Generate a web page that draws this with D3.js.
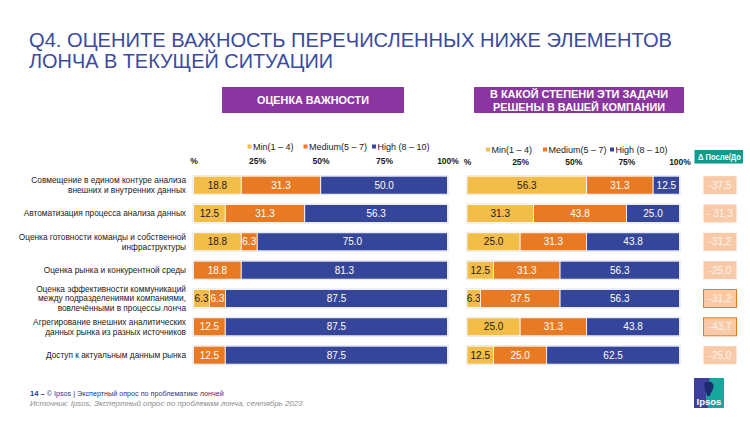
<!DOCTYPE html>
<html><head><meta charset="utf-8">
<script src="https://cdn.jsdelivr.net/npm/d3@7/dist/d3.min.js"></script>
<style>
body{margin:0;background:#fff;}
svg{display:block;font-family:"Liberation Sans",Arial,sans-serif;}
</style></head>
<body><svg id="c" width="750" height="422"></svg>
<script>
const categories = [
  ["Совмещение в едином контуре анализа","внешних и внутренних данных"],
  ["Автоматизация процесса анализа данных"],
  ["Оценка готовности команды и собственной","инфраструктуры"],
  ["Оценка рынка и конкурентной среды"],
  ["Оценка эффективности коммуникаций","между подразделениями компаниями,","вовлечёнными в процессы лонча"],
  ["Агрегирование внешних аналитических","данных рынка из разных источников"],
  ["Доступ к актуальным данным рынка"]
];
const seriesNames = ["Min(1 – 4)","Medium(5 – 7)","High (8 – 10)"];
const importanceMin    = [18.8,12.5,18.8,0,6.3,0,0];
const importanceMedium = [31.3,31.3,6.3,18.8,6.3,12.5,12.5];
const importanceHigh   = [50.0,56.3,75.0,81.3,87.5,87.5,87.5];
const solvedMin    = [56.3,31.3,25.0,12.5,6.3,25.0,12.5];
const solvedMedium = [31.3,43.8,31.3,31.3,37.5,31.3,25.0];
const solvedHigh   = [12.5,25.0,43.8,56.3,56.3,43.8,62.5];
const deltaLabels = ["-37,5","- 31,3","-31,2","-25,0","-31,2","-43,7","-25,0"];
const deltaHighlighted = [false,false,false,false,true,true,false];
const tickValues = [0,25,50,75,100];
const tickLabels = ["%","25%","50%","75%","100%"];

const colors = ["#f2bd48","#e97a24","#34459a"];
const textColors = ["#1a1a1a","#ffffff","#ffffff"];

const svg = d3.select("#c");

// Title
const title = svg.append("g").attr("fill","#3b4a9e").style("font-size","20.2px");
title.append("text").attr("x",29).attr("y",46.5).attr("textLength",643).attr("lengthAdjust","spacingAndGlyphs")
  .text("Q4. ОЦЕНИТЕ ВАЖНОСТЬ ПЕРЕЧИСЛЕННЫХ НИЖЕ ЭЛЕМЕНТОВ");
title.append("text").attr("x",29).attr("y",68).attr("textLength",304).attr("lengthAdjust","spacingAndGlyphs")
  .text("ЛОНЧА В ТЕКУЩЕЙ СИТУАЦИИ");

// Header boxes
function headerBox(x0,x1,lines,widths){
  svg.append("rect").attr("x",x0).attr("y",87).attr("width",x1-x0).attr("height",26).attr("fill","#8a35a0");
  const cy = 100, lh = 13;
  lines.forEach((l,i)=>{
    svg.append("text").attr("x",(x0+x1)/2).attr("y",cy + (i-(lines.length-1)/2)*lh + 4)
      .attr("text-anchor","middle").attr("fill","#fff").style("font-size","11.3px").style("font-weight","bold")
      .attr("textLength",widths[i]).attr("lengthAdjust","spacingAndGlyphs").text(l);
  });
}
headerBox(222,404,["ОЦЕНКА ВАЖНОСТИ"],[112]);
headerBox(474,684,["В КАКОЙ СТЕПЕНИ ЭТИ ЗАДАЧИ","РЕШЕНЫ В ВАШЕЙ КОМПАНИИ"],[178,172]);

const y = d3.scaleBand().domain(d3.range(categories.length)).range([171,369.3]).paddingInner(0.365).paddingOuter(0.1825);

// Category labels
const cat = svg.append("g").style("font-size","8.3px").attr("fill","#1a1a1a");
categories.forEach((lines,i)=>{
  const cy = y(i)+y.bandwidth()/2;
  const lh = 9.6;
  lines.forEach((l,j)=>{
    cat.append("text").attr("x",186).attr("y",cy+(j-(lines.length-1)/2)*lh+3)
      .attr("text-anchor","end").text(l);
  });
});

function drawChart(x0,x1,mins,meds,highs,legendX,legendY,axisY){
  const x = d3.scaleLinear().domain([0,100]).range([x0,x1]);
  const rows = mins.map((m,i)=>[m,meds[i],highs[i]]);
  const g = svg.append("g");
  const ax = svg.append("g").attr("transform",`translate(0,${axisY})`)
    .call(d3.axisTop(x).tickValues(tickValues).tickFormat((d,i)=>tickLabels[i]).tickSize(0).tickPadding(0));
  ax.select(".domain").remove();
  ax.selectAll("text").style("font-family","inherit").style("font-size","8.5px").style("font-weight","bold").attr("fill","#1a1a1a").attr("dy","0.35em");
  const lg = svg.append("g").style("font-size","9px");
  seriesNames.forEach((s,k)=>{
    lg.append("rect").attr("x",legendX[k]).attr("y",legendY-2.5).attr("width",4).attr("height",4).attr("fill",colors[k]);
    lg.append("text").attr("x",legendX[k]+5.5).attr("y",legendY+3.1).attr("fill","#1a1a1a").text(s);
  });
  rows.forEach((r,i)=>{
    const row = g.append("g");
    row.append("rect").attr("x",x(0)-0.5).attr("y",y(i)-0.5).attr("width",x(100)-x(0)+1).attr("height",y.bandwidth()+1)
      .attr("fill","none").attr("stroke","#dfe2f0").attr("stroke-width",1);
    let acc = 0;
    r.forEach((v,k)=>{
      if(v>0){
        const xa = x(acc), xb = x(Math.min(acc+v,100));
        row.append("rect").attr("x",xa).attr("y",y(i)).attr("width",xb-xa).attr("height",y.bandwidth())
          .attr("fill",colors[k]).attr("stroke","#fff").attr("stroke-width",0.8);
        row.append("text").attr("x",(xa+xb)/2).attr("y",y(i)+y.bandwidth()/2+3.6)
          .attr("text-anchor","middle").attr("fill",textColors[k]).style("font-size","10px").text(v.toFixed(1));
      }
      acc += v;
    });
  });
}
drawChart(193.5,447.5,importanceMin,importanceMedium,importanceHigh,[247.5,303.5,372],147,161);
drawChart(467,679.5,solvedMin,solvedMedium,solvedHigh,[486,543,610],150,162);

// Delta column
svg.append("rect").attr("x",694.5).attr("y",150).attr("width",48.5).attr("height",13.5).attr("fill","#0f9c8d");
svg.append("text").attr("x",719.5).attr("y",160).attr("text-anchor","middle").attr("fill","#fff")
  .style("font-size","8.5px").style("font-weight","bold").attr("textLength",43).attr("lengthAdjust","spacingAndGlyphs").text("Δ После/До");
deltaLabels.forEach((d,i)=>{
  const cy = y(i)+y.bandwidth()/2;
  svg.append("rect").attr("x",703.5).attr("y",cy-9).attr("width",33).attr("height",18)
    .attr("fill","#f8caa8").attr("stroke",deltaHighlighted[i]?"#e97a24":"none").attr("stroke-width",1);
  svg.append("text").attr("x",720).attr("y",cy+3.5).attr("text-anchor","middle").attr("fill","#fdf3ec")
    .style("font-size","10px").text(d);
});

// Footer
const f1 = svg.append("text").attr("x",30).attr("y",396).attr("fill","#2a3580");
f1.append("tspan").style("font-size","7.5px").style("font-weight","bold").text("14 – ");
f1.append("tspan").style("font-size","7.2px").text("© Ipsos | Экспертный опрос по проблематике лончей");
svg.append("text").attr("x",30).attr("y",406).attr("fill","#8a8a8a").style("font-size","7.85px").style("font-style","italic")
  .text("Источник: Ipsos, Экспертный опрос по проблемам лонча, сентябрь 2023");

// Logo
const logo = svg.append("g").attr("transform","translate(694,378)");
logo.append("rect").attr("width",30).attr("height",30).attr("fill","#16a89d");
logo.append("path").attr("d","M0,0 H16 C11,10 11,20 14,30 H0 Z").attr("fill","#3c3f9b");
logo.append("path").attr("d","M12,4 C17,2 21,6 19,11 C18,14 16,15 16,18 L13,18 C13,15 11,14 11,11 C10,8 10,5 12,4 Z").attr("fill","#1d2a6e");
logo.append("text").attr("x",15).attr("y",27).attr("text-anchor","middle").attr("fill","#fff")
  .style("font-size","9.5px").style("font-weight","bold").text("Ipsos");
</script></body></html>
